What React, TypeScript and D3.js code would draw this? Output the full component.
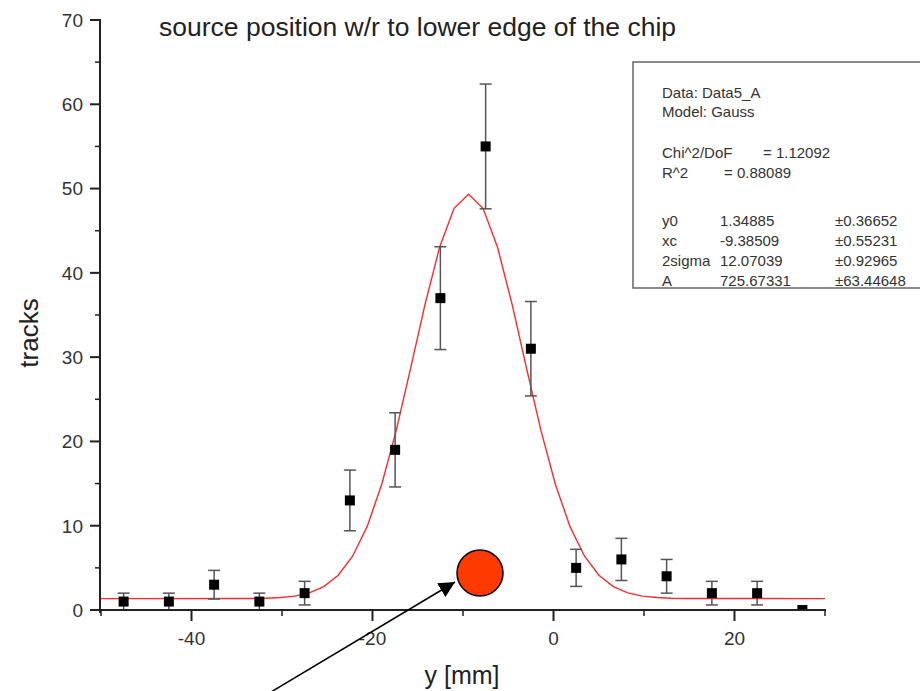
import React from "react";
import * as d3 from "d3";

const W = 920;
const H = 691;

// measured bin centres (mm) and counts
const binX = [-47.5, -42.5, -37.5, -32.5, -27.5, -22.5, -17.5, -12.5, -7.5, -2.5, 2.5, 7.5, 12.5, 17.5, 22.5, 27.5];
const counts = [1, 1, 3, 1, 2, 13, 19, 37, 55, 31, 5, 6, 4, 2, 2, 0];
const errors = [1, 1, 1.7, 1, 1.4, 3.6, 4.4, 6.1, 7.4, 5.6, 2.2, 2.5, 2, 1.4, 1.4, 0];

// Gauss fit curve samples
const fitX = [-50, -33.385, -31.785, -30.185, -28.585, -26.985, -25.385, -23.785, -22.185, -20.585, -18.985, -17.385, -15.785, -14.185, -12.585, -10.985, -9.385, -7.785, -6.185, -4.585, -2.985, -1.385, 0.215, 1.815, 3.415, 5.015, 6.615, 8.215, 9.815, 11.415, 13.015, 14.615, 30];
const fitY = [1.35, 1.37, 1.4, 1.48, 1.65, 2.03, 2.78, 4.13, 6.41, 9.92, 14.89, 21.28, 28.69, 36.31, 43.03, 47.66, 49.32, 47.66, 43.03, 36.31, 28.69, 21.28, 14.89, 9.92, 6.41, 4.13, 2.78, 2.03, 1.65, 1.48, 1.4, 1.37, 1.35];

const xMajor = [-40, -20, 0, 20];
const xMinor = [-50, -30, -10, 10, 30];
const yMajor = [0, 10, 20, 30, 40, 50, 60, 70];
const yMinor = [5, 15, 25, 35, 45, 55, 65];

const legendHead = ["Data: Data5_A", "Model: Gauss"];
const legendStats = [["Chi^2/DoF", "= 1.12092"], ["R^2", "=  0.88089"]];
const paramNames = ["y0", "xc", "2sigma", "A"];
const paramValues = ["1.34885", "-9.38509", "12.07039", "725.67331"];
const paramErrors = ["±0.36652", "±0.55231", "±0.92965", "±63.44648"];

const FONT = "'Liberation Sans', Arial, sans-serif";

export default function App() {
  const x = d3.scaleLinear().domain([-50, 30]).range([101, 825]);
  const y = d3.scaleLinear().domain([0, 70]).range([610, 20]);
  const fitLine = d3
    .line<number>()
    .x((_, i) => x(fitX[i]))
    .y((d) => y(d));

  const axisColor = "#222";
  const textColor = "#333";

  return (
    <svg
      width={W}
      height={H}
      style={{ position: "absolute", left: 0, top: 0, background: "#fff" }}
      fontFamily={FONT}
    >
      <defs>
        <clipPath id="plotClip">
          <rect x={101} y={0} width={724} height={610} />
        </clipPath>
        <marker id="arrowHead" viewBox="0 0 10 10" refX="10" refY="5" markerWidth="16" markerHeight="16" markerUnits="userSpaceOnUse" orient="auto">
          <path d="M0,0 L10,5 L0,10 z" fill="#000" />
        </marker>
      </defs>

      {/* title */}
      <text x={159} y={36} fontSize={26.5} fill="#222">
        source position w/r to lower edge of the chip
      </text>

      {/* fit curve */}
      <g clipPath="url(#plotClip)">
        <path d={fitLine(fitY) || ""} fill="none" stroke="#ff2a2a" strokeWidth={1.4} strokeLinejoin="miter" />
      </g>

      {/* error bars and points */}
      <g clipPath="url(#plotClip)">
        {binX.map((bx, i) => {
          const cx = x(bx);
          const e = errors[i];
          if (e <= 0) return null;
          const top = y(counts[i] + e);
          const bot = y(counts[i] - e);
          return (
            <g key={"e" + i} stroke="#555" strokeWidth={1.5}>
              <line x1={cx} x2={cx} y1={top} y2={bot} />
              <line x1={cx - 6} x2={cx + 6} y1={top} y2={top} />
              <line x1={cx - 6} x2={cx + 6} y1={bot} y2={bot} />
            </g>
          );
        })}
        {binX.map((bx, i) => (
          <rect key={"p" + i} x={x(bx) - 5} y={y(counts[i]) - 5} width={10} height={10} fill="#000" />
        ))}
      </g>

      {/* axes */}
      <g stroke={axisColor}>
        <line x1={100} x2={100} y1={19} y2={613} strokeWidth={2} />
        <line x1={99} x2={826} y1={610} y2={610} strokeWidth={2} />
        {yMajor.map((v) => (
          <line key={"ym" + v} x1={90} x2={100} y1={y(v)} y2={y(v)} strokeWidth={2} />
        ))}
        {yMinor.map((v) => (
          <line key={"yn" + v} x1={95} x2={100} y1={y(v)} y2={y(v)} strokeWidth={1.5} />
        ))}
        {xMajor.map((v) => (
          <line key={"xm" + v} x1={x(v)} x2={x(v)} y1={610} y2={621} strokeWidth={2} />
        ))}
        {xMinor.map((v) => (
          <line key={"xn" + v} x1={x(v)} x2={x(v)} y1={610} y2={616} strokeWidth={1.5} />
        ))}
      </g>
      {yMajor.map((v) => (
        <text key={"yl" + v} x={83} y={y(v)} dy="0.36em" textAnchor="end" fontSize={19} fill={textColor}>
          {v}
        </text>
      ))}
      {xMajor.map((v) => (
        <text key={"xl" + v} x={x(v)} y={645} textAnchor="middle" fontSize={19} fill={textColor}>
          {v}
        </text>
      ))}

      {/* axis titles */}
      <text x={462} y={684} textAnchor="middle" fontSize={25} fill="#222">
        y [mm]
      </text>
      <text transform="translate(38,333) rotate(-90)" textAnchor="middle" fontSize={26} fill="#222">
        tracks
      </text>

      {/* legend box */}
      <rect x={633} y={62} width={300} height={226} fill="#fff" stroke="#666" strokeWidth={1.5} />
      <g fontSize={15} fill={textColor}>
        {legendHead.map((t, i) => (
          <text key={"lh" + i} x={662} y={98 + i * 19}>
            {t}
          </text>
        ))}
        {legendStats.map((row, i) => (
          <g key={"ls" + i}>
            <text x={662} y={158 + i * 20}>{row[0]}</text>
            <text x={i === 0 ? 763 : 724} y={158 + i * 20}>{row[1]}</text>
          </g>
        ))}
        {paramNames.map((n, i) => (
          <g key={"pr" + i}>
            <text x={662} y={226 + i * 20}>{n}</text>
            <text x={720} y={226 + i * 20}>{paramValues[i]}</text>
            <text x={835} y={226 + i * 20}>{paramErrors[i]}</text>
          </g>
        ))}
      </g>

      {/* annotation: source marker and arrow */}
      <line x1={271} y1={692} x2={455} y2={582} stroke="#000" strokeWidth={1.5} markerEnd="url(#arrowHead)" />
      <circle cx={480} cy={573} r={23} fill="#ff3a00" stroke="#000" strokeWidth={1.5} />
    </svg>
  );
}
